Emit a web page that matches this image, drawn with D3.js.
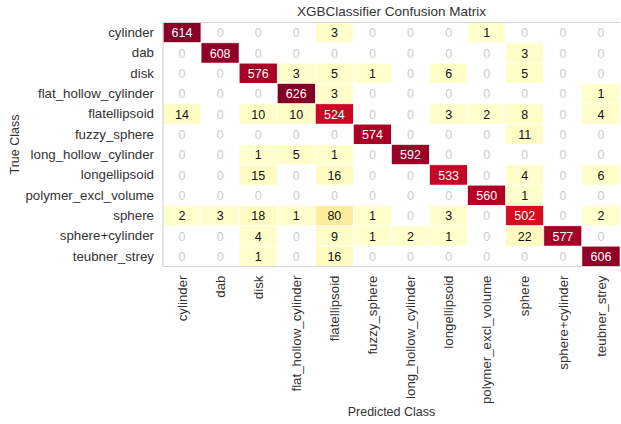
<!DOCTYPE html>
<html><head><meta charset="utf-8">
<script src="https://cdn.jsdelivr.net/npm/d3@7"></script>
<style>body{margin:0;background:#fff;}svg{display:block;font-family:"Liberation Sans",Arial,sans-serif;}</style>
</head><body>
<svg id="c" width="621" height="424"></svg>
<script>
const classes = ["cylinder","dab","disk","flat_hollow_cylinder","flatellipsoid","fuzzy_sphere","long_hollow_cylinder","longellipsoid","polymer_excl_volume","sphere","sphere+cylinder","teubner_strey"];
const row_cylinder = [614,0,0,0,3,0,0,0,1,0,0,0];
const row_dab = [0,608,0,0,0,0,0,0,0,3,0,0];
const row_disk = [0,0,576,3,5,1,0,6,0,5,0,0];
const row_flat_hollow_cylinder = [0,0,0,626,3,0,0,0,0,0,0,1];
const row_flatellipsoid = [14,0,10,10,524,0,0,3,2,8,0,4];
const row_fuzzy_sphere = [0,0,0,0,0,574,0,0,0,11,0,0];
const row_long_hollow_cylinder = [0,0,1,5,1,0,592,0,0,0,0,0];
const row_longellipsoid = [0,0,15,0,16,0,0,533,0,4,0,6];
const row_polymer_excl_volume = [0,0,0,0,0,0,0,0,560,1,0,0];
const row_sphere = [2,3,18,1,80,1,0,3,0,502,0,2];
const row_sphere_cylinder = [0,0,4,0,9,1,2,1,0,22,577,0];
const row_teubner_strey = [0,0,1,0,16,0,0,0,0,0,0,606];
const matrix = [row_cylinder,row_dab,row_disk,row_flat_hollow_cylinder,row_flatellipsoid,row_fuzzy_sphere,row_long_hollow_cylinder,row_longellipsoid,row_polymer_excl_volume,row_sphere,row_sphere_cylinder,row_teubner_strey];
const title = "XGBClassifier Confusion Matrix";
const xLabel = "Predicted Class", yLabel = "True Class";

const svg = d3.select("#c");
const L = 163, T = 22.5, W = 457, H = 244;
const FONT = "Liberation Sans, Arial, sans-serif";
const x = d3.scaleBand().domain(classes).range([L, L+W]);
const y = d3.scaleBand().domain(classes).range([T, T+H]);
const vmax = d3.max(matrix.flat());
const ylorrd = ["#ffffcc","#ffeda0","#fed976","#feb24c","#fd8d3c","#fc4e2a","#e31a1c","#bd0026","#800026"];
const color = d3.scaleLinear().domain(d3.range(9).map(i => i/8*vmax)).range(ylorrd).interpolate(d3.interpolateRgb);

const cells = [];
matrix.forEach((r,i) => r.forEach((v,j) => cells.push({t:classes[i], p:classes[j], v})));

svg.append("g").selectAll("rect").data(cells).join("rect")
  .attr("x", d => x(d.p)).attr("y", d => y(d.t))
  .attr("width", x.bandwidth()).attr("height", y.bandwidth())
  .attr("fill", d => d.v === 0 ? "#ffffff" : color(d.v))
  .attr("stroke", "#ffffff").attr("stroke-width", 0.6);

svg.append("g").selectAll("text").data(cells).join("text")
  .attr("x", d => x(d.p) + x.bandwidth()/2)
  .attr("y", d => y(d.t) + y.bandwidth()/2)
  .attr("text-anchor","middle").attr("dy","0.36em")
  .attr("font-size", 12.5).attr("font-family", FONT)
  .attr("fill", d => d.v === 0 ? "#cccccc" : (d.v/vmax > 0.6 ? "#ffffff" : "#111111"))
  .text(d => d.v);

// frame (light grey spines)
const fr = svg.append("g").attr("stroke","#d5d5d5").attr("stroke-width",1.2);
fr.append("line").attr("x1",L).attr("x2",L+W).attr("y1",T).attr("y2",T);
fr.append("line").attr("x1",L).attr("x2",L+W).attr("y1",T+H).attr("y2",T+H);
fr.append("line").attr("x1",L).attr("x2",L).attr("y1",T).attr("y2",T+H);

// y axis labels
const ya = svg.append("g").attr("transform",`translate(${L},0)`)
  .call(d3.axisLeft(y).tickSize(0).tickPadding(9));
ya.select(".domain").remove();
ya.selectAll("text").attr("font-size",13.3).attr("fill","#333333").attr("font-family",FONT);

// x axis labels
const xa = svg.append("g").attr("transform",`translate(0,${T+H})`)
  .call(d3.axisBottom(x).tickSize(0).tickPadding(9));
xa.select(".domain").remove();
xa.selectAll("text").attr("font-size",13.3).attr("fill","#333333").attr("font-family",FONT)
  .attr("transform","rotate(-90)").attr("text-anchor","end").attr("dx","-9").attr("dy","0.35em").attr("y",0).attr("x",0);

svg.append("text").attr("x", L+W/2).attr("y", 16).attr("text-anchor","middle").attr("font-family",FONT)
  .attr("font-size",13.5).attr("fill","#333333").text(title);
svg.append("text").attr("x", L+W/2).attr("y", 416).attr("text-anchor","middle").attr("font-family",FONT)
  .attr("font-size",12.5).attr("fill","#333333").text(xLabel);
svg.append("text").attr("transform",`translate(19,${T+H/2}) rotate(-90)`).attr("text-anchor","middle").attr("font-family",FONT)
  .attr("font-size",12.5).attr("fill","#333333").text(yLabel);
</script>
</body></html>
